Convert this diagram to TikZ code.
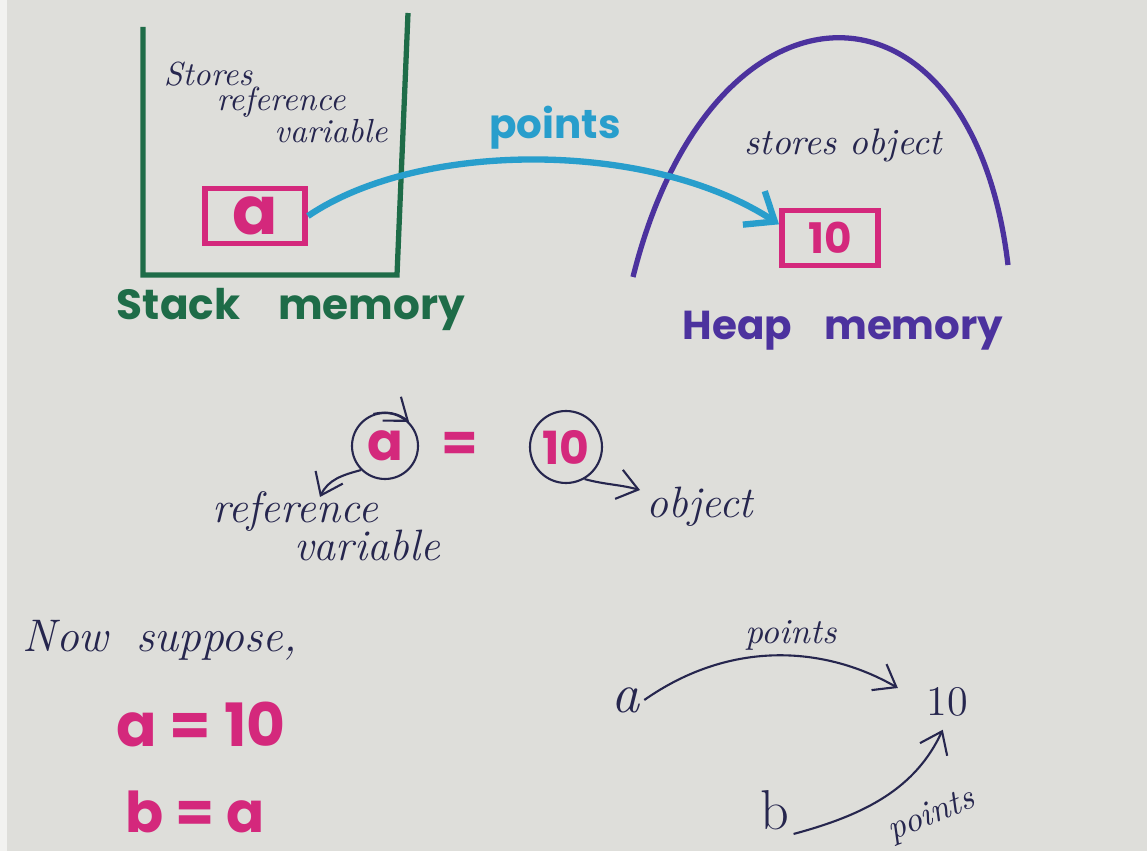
\documentclass[tikz,border=0pt]{standalone}
\usepackage{fontspec}
\newfontfamily\markerfont{Poppins}
\usetikzlibrary{arrows.meta, positioning}
\definecolor{paper}{RGB}{222,222,218}
\definecolor{ink}{RGB}{38,38,78}
\definecolor{stackgreen}{RGB}{30,108,72}
\definecolor{heappurple}{RGB}{76,50,158}
\definecolor{markpink}{RGB}{212,40,124}
\definecolor{pointblue}{RGB}{40,158,204}

\begin{document}
\begin{tikzpicture}[x=0.1mm, y=-0.1mm, every node/.style={inner sep=1pt, text=ink},
                    hand/.style={font=\itshape\fontsize{#1}{#1}\selectfont},
                    plain/.style={font=\fontsize{#1}{#1}\selectfont},
                    marker/.style={font=\markerfont\bfseries\fontsize{#1}{#1}\selectfont},
                    valbox/.style={draw=markpink, line width=1.7pt, inner sep=0pt, text=markpink},
                    ring/.style={circle, draw=ink, line width=0.6pt, inner sep=0pt, text=markpink},
                    inkarrow/.style={ink, line width=0.6pt, -{Straight Barb[length=2mm, width=3mm]}}]
  \fill[paper] (0,0) rectangle (1147,851);
  \fill[white!60!paper] (0,0) rectangle (7,851);
  \useasboundingbox (0,0) rectangle (1147,851);

  % Stack memory
  \draw[stackgreen, line width=1.5pt] (143,27) -- (143,275) -- (397,275) -- (408,13);
  \node[hand=9.5, inner sep=0pt] (st1) at (208,74) {Stores};
  \node[hand=9.5, inner sep=0pt] (st2) at (281,102) {reference};
  \node[hand=9.5, inner sep=0pt] (st3) at (331,131) {variable};
  \node[valbox, minimum width=10mm, minimum height=5.5mm, marker=19] (aBox) at (255,216) {a};
  \node[marker=12, text=stackgreen] (stackLbl) at (291,309) {Stack\hspace{0.9em}memory};

  % Heap memory
  \draw[heappurple, line width=1.5pt] (633,277) .. controls (712,-40) and (972,-40) .. (1008,265);
  \node[hand=10.5] (so) at (843,145) {stores object};
  \node[valbox, minimum width=9.6mm, minimum height=5.5mm, marker=12] (tenBox) at (830,238) {10};
  \node[marker=11.5, text=heappurple] (heapLbl) at (843,331) {Heap\hspace{0.8em}memory};

  % points
  \node[marker=11.5, text=pointblue] (pts) at (555,128) {points};
  \draw[pointblue, line width=1.8pt, -{Straight Barb[length=2.5mm, width=4mm]}]
    (aBox.east) .. controls (420,140) and (650,140) .. (tenBox.165);

  % a = 10
  \node[ring, minimum size=6.6mm, marker=15] (aCirc) at (385,446) {a};
  \node[marker=15, text=markpink] (eq) at (460,447) {=};
  \node[ring, minimum size=7.2mm, marker=13] (tenCirc) at (566,447) {10};
  \node[hand=12.5] (ref1) at (295,512) {reference};
  \node[hand=12.5] (ref2) at (367,545) {variable};
  \node[hand=12.5] (obj) at (700,507) {object};
  \coordinate (refTip) at (320,497);
  \coordinate (objTip) at (640,490);
  \draw[inkarrow] (aCirc.110) to[bend left=25] (aCirc.45);
  \draw[inkarrow] (aCirc.225) to[out=195, in=65] (refTip);
  \draw[inkarrow] (tenCirc.300) to[out=-15, in=165] (objTip);

  % Now suppose
  \node[hand=13] (now) at (160,640) {Now\hspace{0.6em}suppose,};
  \node[marker=17, text=markpink] (eq1) at (201,724) {a = 10};
  \node[marker=16, text=markpink] (eq2) at (195,812) {b = a};

  \node[hand=16] (va) at (626,700) {a};
  \node[plain=12] (vten) at (947,702) {10};
  \node[plain=16] (vb) at (775,810) {b};
  \node[hand=10] (pts1) at (791,635) {points};
  \node[hand=10, rotate=22] (pts2) at (932,816) {points};
  \draw[inkarrow, shorten >=2.8mm] (va.east) to[out=35, in=150] (vten.west);
  \draw[inkarrow, shorten >=1mm] (vb.south east) to[out=15, in=245] (vten.south);
\end{tikzpicture}
\end{document}
